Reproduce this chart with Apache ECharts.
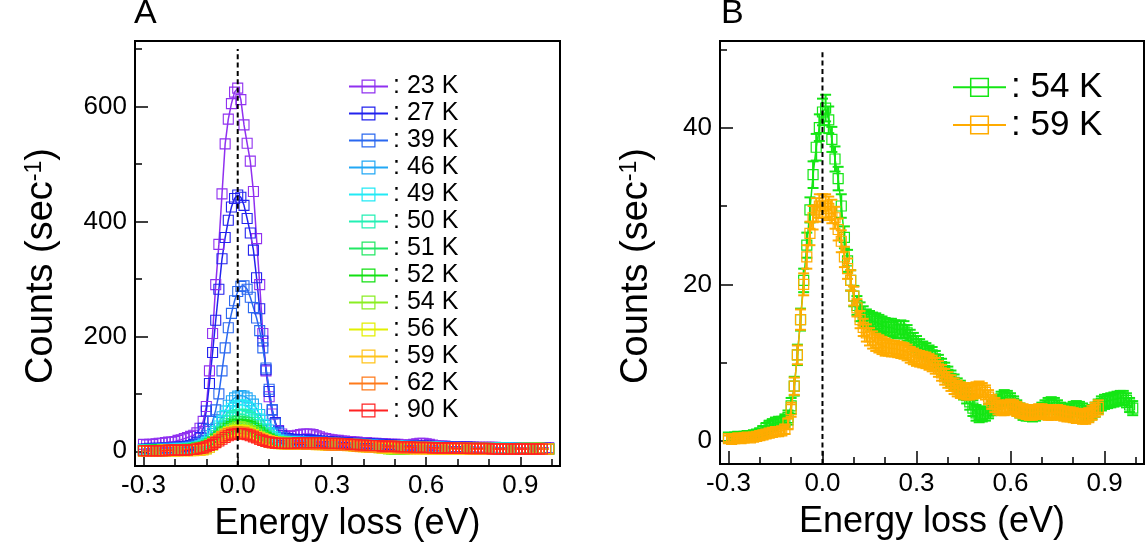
<!DOCTYPE html>
<html><head><meta charset="utf-8">
<script src="https://cdn.jsdelivr.net/npm/echarts@6/dist/echarts.min.js"></script>
<style>html,body{margin:0;padding:0;background:#fff}#c{width:1146px;height:552px}</style>
</head><body><div id="c"></div>
<script>
const FONT = '"Liberation Sans", Arial, Helvetica, sans-serif';

// energy loss grid (eV)
const energy = [
 -0.30,-0.29,-0.28,-0.27,-0.26,-0.25,-0.24,-0.23,-0.22,-0.21,
 -0.20,-0.19,-0.18,-0.17,-0.16,-0.15,-0.14,-0.13,-0.12,-0.11,
 -0.10,-0.09,-0.08,-0.07,-0.06,-0.05,-0.04,-0.03,-0.02,-0.01,
 0.00,0.01,0.02,0.03,0.04,0.05,0.06,0.07,0.08,0.09,
 0.10,0.11,0.12,0.13,0.14,0.15,0.16,0.17,0.18,0.19,
 0.20,0.21,0.22,0.23,0.24,0.25,0.26,0.27,0.28,0.29,
 0.30,0.31,0.32,0.33,0.34,0.35,0.36,0.37,0.38,0.39,
 0.40,0.41,0.42,0.43,0.44,0.45,0.46,0.47,0.48,0.49,
 0.50,0.51,0.52,0.53,0.54,0.55,0.56,0.57,0.58,0.59,
 0.60,0.61,0.62,0.63,0.64,0.65,0.66,0.67,0.68,0.69,
 0.70,0.71,0.72,0.73,0.74,0.75,0.76,0.77,0.78,0.79,
 0.80,0.81,0.82,0.83,0.84,0.85,0.86,0.87,0.88,0.89,
 0.90,0.91,0.92,0.93,0.94,0.95,0.96,0.97,0.98,0.99
];

const tempsA = ['23 K','27 K','39 K','46 K','49 K','50 K','51 K','52 K','54 K','56 K','59 K','62 K','90 K'];
const colorsA = ['#9030f0','#2222ee','#2a68f0','#22a8f5','#22eaf5','#22f0b4','#22e864','#12e012','#8aee22','#e2f000','#ffc41a','#ff7a1a','#ff2222'];

const c23 = [
 12,11,12,12,13,14,14,15,16,16,17,19,20,22,24,
 26,28,32,40,52,78,140,205,290,360,448,535,578,605,625,
 632,
 612,568,536,505,452,370,290,205,140,95,65,48,36,30,27,
 26,26,27,28,29,30,30,30,29,27,25,23,22,21,20,
 19,19,18,18,17,17,16,16,15,15,
 15,14,14,14,13,13,13,12,12,12,
 12,11,11,11,11,12,13,14,14,13,
 12,11,10,9,9,9,8,8,8,8,
 8,8,8,7,7,7,7,7,7,7,
 7,7,6,6,6,6,6,6,6,6,
 6,6,6,6,6,6,6,6,6
];
const c27 = [
 4,4,5,4,5,5,5,6,6,6,7,7,8,8,9,
 10,12,16,24,40,70,118,172,228,282,335,372,402,425,440,
 446,
 442,428,405,380,350,302,248,192,142,104,72,50,35,27,23,
 22,21,21,20,20,20,20,19,19,19,18,18,17,17,16,
 16,16,15,15,15,14,14,14,13,13,
 13,13,12,12,12,12,11,11,11,11,
 10,10,10,10,10,9,9,9,9,9,
 9,8,8,8,8,8,8,7,7,7,
 7,7,7,7,7,6,6,6,6,6,
 6,6,6,6,6,6,5,5,5,5,
 5,5,5,5,5,5,5,5,5
];
const c39 = [
 3,3,4,3,4,4,4,5,5,5,5,6,6,6,7,
 8,9,11,14,19,27,38,52,72,100,140,180,215,240,262,
 278,
 287,288,282,268,250,232,210,180,145,108,72,48,32,24,20,
 19,18,18,18,17,17,17,17,16,16,16,16,15,15,15,
 14,14,14,13,13,13,13,12,12,12,
 12,11,11,11,11,10,10,10,10,10,
 9,9,9,9,9,9,8,8,8,8,
 8,8,7,7,7,7,7,7,7,6,
 6,6,6,6,6,6,6,6,5,5,
 5,5,5,5,5,5,5,5,5,5,
 5,5,5,5,5,4,4,4,4
];
const c46 = [
 3,2,3,3,3,3,4,3,4,4,4,4,5,5,5,
 6,7,8,10,13,17,23,31,40,50,60,70,80,88,93,
 96,
 97,96,93,88,82,74,64,54,45,37,30,25,21,19,18,
 17,17,16,16,16,16,15,15,15,15,15,14,14,14,14,
 14,13,13,13,13,12,12,12,12,11,
 11,11,11,10,10,10,10,10,9,9,
 9,9,9,8,8,8,8,8,8,7,
 7,7,7,7,7,7,6,6,6,6,
 6,6,6,6,6,6,5,5,5,5,
 5,5,5,5,5,5,5,5,5,5,
 5,5,5,5,4,4,4,4,4
];
const c49 = [
 2,2,2,3,2,3,3,3,3,3,4,4,4,4,5,
 5,6,7,9,11,15,20,27,35,44,53,62,70,75,78,
 80,
 81,80,78,75,70,64,56,47,39,32,26,22,19,17,16,
 16,16,16,15,15,15,15,15,14,14,14,14,14,13,13,
 13,13,13,12,12,12,12,11,11,11,
 11,10,10,10,10,10,9,9,9,9,
 9,8,8,8,8,8,8,7,7,7,
 7,7,7,7,6,6,6,6,6,6,
 6,6,6,6,5,5,5,5,5,5,
 5,5,5,5,5,5,5,5,4,4,
 4,4,4,4,4,4,4,4,4
];
const c50 = [
 2,2,2,2,2,2,3,3,3,3,3,3,4,4,4,
 4,5,6,7,9,12,16,21,27,34,41,48,54,59,62,
 64,
 65,64,62,59,55,50,44,38,32,27,23,20,18,17,16,
 16,15,15,15,15,15,14,14,14,14,14,13,13,13,13,
 13,12,12,12,12,12,11,11,11,11,
 10,10,10,10,10,9,9,9,9,9,
 8,8,8,8,8,8,7,7,7,7,
 7,7,7,6,6,6,6,6,6,6,
 6,6,5,5,5,5,5,5,5,5,
 5,5,5,5,5,4,4,4,4,4,
 4,4,4,4,4,4,4,4,4
];
const c51 = [
 1,1,2,2,2,2,2,2,3,3,3,3,3,3,4,
 4,5,6,7,8,10,13,17,22,27,33,39,44,48,51,
 52,
 52,51,50,47,44,40,35,30,26,22,19,17,16,15,14,
 14,14,14,14,13,13,13,13,13,13,12,12,12,12,12,
 12,11,11,11,11,11,10,10,10,10,
 10,9,9,9,9,9,8,8,8,8,
 8,8,7,7,7,7,7,7,6,6,
 6,6,6,6,6,6,5,5,5,5,
 5,5,5,5,5,5,5,4,4,4,
 4,4,4,4,4,4,4,4,4,4,
 4,4,4,4,4,4,4,4,4
];
const c52 = [
 1,1,1,1,2,2,2,2,2,2,2,3,3,3,3,
 3,4,5,6,7,9,12,15,20,25,30,35,40,43,46,
 47,
 47,46,45,43,40,36,32,28,24,21,18,16,15,14,14,
 13,13,13,13,13,13,13,12,12,12,12,12,12,11,11,
 11,11,11,10,10,10,10,10,9,9,
 9,9,9,8,8,8,8,8,7,7,
 7,7,7,7,6,6,6,6,6,6,
 6,6,5,5,5,5,5,5,5,5,
 5,5,4,4,4,4,4,4,4,4,
 4,4,4,4,4,4,4,4,4,4,
 4,4,4,4,4,4,4,4,4
];
const c56 = [
 1,1,1,1,1,1,2,2,2,2,2,2,2,3,3,
 3,3,4,5,6,8,11,14,18,22,26,30,33,35,36,
 37,
 37,36,34,32,29,26,23,20,18,16,15,14,13,13,13,
 13,13,12,12,12,12,12,12,12,12,12,12,11,11,11,
 11,11,10,10,10,10,9,9,9,8,
 8,8,7,7,7,6,6,6,6,6,
 6,6,5,5,5,5,5,5,5,4,
 4,4,4,4,4,4,4,4,4,4,
 4,4,4,4,4,4,4,4,4,4,
 4,4,4,4,4,4,4,4,4,4,
 4,4,4,4,4,4,4,4,4
];
const c62 = [
 1,1,1,1,1,1,1,2,2,2,2,2,2,2,3,
 3,3,4,5,6,8,10,13,17,21,25,28,31,32,33,
 34,
 33,33,31,29,27,24,21,19,17,16,15,14,14,13,13,
 13,13,13,13,13,13,12,12,12,12,12,12,12,11,11,
 11,11,11,10,10,10,10,9,9,9,
 9,8,8,8,8,7,7,7,7,7,
 6,6,6,6,6,6,6,5,5,5,
 5,5,5,5,5,5,5,5,5,5,
 5,5,5,4,4,4,4,4,4,4,
 4,4,4,4,4,4,4,4,4,4,
 4,4,4,4,4,4,4,4,4
];
const c90 = [
 1,1,1,1,1,1,1,1,2,2,2,2,2,2,2,
 3,3,4,5,6,8,10,12,15,18,21,24,27,29,30,
 31,
 31,30,29,27,25,23,21,19,17,16,15,14,14,14,14,
 14,14,14,15,15,15,15,15,15,15,15,15,14,14,14,
 14,14,13,13,13,12,12,12,11,11,
 11,10,10,10,10,9,9,9,9,9,
 8,8,8,8,8,7,7,7,7,7,
 7,6,6,6,6,6,6,6,5,5,
 5,5,5,5,5,5,5,5,5,5,
 4,4,4,4,4,4,4,4,4,4,
 4,4,4,4,4,4,4
];

// panel B (also used for 54 K and 59 K in panel A)
const b54 = [
 0.5,0.4,0.5,0.6,0.5,0.6,0.7,0.6,0.8,0.9,
 1.0,1.3,1.6,1.9,2.1,2.3,2.4,2.4,2.6,3.0,
 4.5,7,11,15.5,20.5,25,29.5,34,37.5,40,42,
 42.5,41,38.5,36,33.5,30,26,23,20.5,18.5,
 17.3,16.5,16,15.7,15.5,15.3,15.2,15,14.8,14.6,
 14.5,14.5,14.3,14.2,14.3,14.2,13.8,13.2,12.8,12.4,
 12.0,11.7,11.5,11.2,11.0,10.5,10.0,9.5,9.0,8.5,
 8.0,7.5,7.0,6.7,6.3,5.8,5.0,4.2,3.6,3.4,
 3.4,3.5,3.8,4.2,4.6,5.0,5.4,5.6,5.5,5.2,
 4.8,4.3,3.9,3.6,3.5,3.5,3.4,3.5,3.7,4.0,
 4.3,4.6,4.7,4.6,4.3,4.0,3.8,3.7,3.9,4.1,
 4.2,4.1,3.9,3.6,3.5,3.7,4.0,4.4,4.8,5.0,
 5.1,5.2,5.3,5.4,5.5,5.5,5.2,4.6,4.2
];
const e54 = [
 0.5,0.5,0.5,0.5,0.5,0.5,0.5,0.5,0.5,0.5,
 0.6,0.6,0.7,0.7,0.7,0.7,0.7,0.7,0.8,0.9,
 1.0,1.2,1.3,1.4,1.5,1.6,1.6,1.7,1.7,1.7,1.7,
 1.7,1.7,1.6,1.6,1.5,1.5,1.4,1.4,1.3,1.3,
 1.2,1.2,1.2,1.1,1.1,1.1,1.1,1.1,1.1,1.1,
 1.1,1.1,1.1,1.1,1.1,1.1,1.0,1.0,1.0,1.0,
 1.0,1.0,1.0,1.0,1.0,1.0,1.0,1.0,1.0,1.0,
 1.0,1.0,1.0,1.0,1.0,1.0,1.0,1.0,1.0,1.0,
 0.9,0.9,0.9,0.9,0.9,0.9,0.9,0.9,0.9,0.9,
 0.9,0.9,0.9,0.9,0.9,0.9,0.9,0.9,0.9,0.9,
 0.9,0.9,0.9,0.9,0.9,0.9,0.9,0.9,0.9,0.9,
 0.9,0.9,0.9,0.9,0.9,0.9,0.9,0.9,0.9,0.9,
 0.9,0.9,0.9,0.9,0.9,0.9,0.9,0.9,0.9
];
const b59 = [
 0.3,0.2,0.3,0.4,0.3,0.4,0.5,0.4,0.5,0.6,
 0.7,0.8,0.9,1.0,1.1,1.2,1.2,1.3,1.5,2.2,
 4,7,11,15.5,20,23.5,26.5,28.5,29.5,30,30,
 30,29.7,29.3,28.5,27,25.5,23.5,22,20.5,18.5,
 17,15.5,14.5,13.8,13.3,12.9,12.6,12.4,12.2,12.0,
 11.9,11.8,11.8,11.7,11.6,11.5,11.3,11.0,10.8,10.6,
 10.5,10.4,10.3,10.1,9.9,9.6,9.2,8.7,8.2,7.8,
 7.4,7.0,6.7,6.5,6.4,6.3,6.3,6.4,6.5,6.6,
 6.5,6.2,5.6,5.0,4.6,4.3,4.2,4.2,4.3,4.4,
 4.3,4.1,3.9,3.8,3.7,3.6,3.6,3.7,3.8,3.8,
 3.7,3.6,3.6,3.7,3.7,3.6,3.5,3.4,3.4,3.3,
 3.2,3.2,3.1,3.1,3.3,3.6,4.0,4.3
];
const e59 = [
 0.4,0.4,0.4,0.4,0.4,0.4,0.4,0.4,0.4,0.4,
 0.5,0.5,0.5,0.5,0.5,0.5,0.5,0.5,0.6,0.7,
 0.9,1.1,1.2,1.3,1.4,1.5,1.5,1.5,1.5,1.5,1.5,
 1.5,1.5,1.5,1.4,1.4,1.4,1.3,1.3,1.3,1.2,
 1.1,1.1,1.1,1.1,1.1,1.1,1.1,1.1,1.1,1.1,
 1.0,1.0,1.0,1.0,1.0,1.0,1.0,1.0,1.0,1.0,
 1.0,1.0,1.0,1.0,1.0,1.0,1.0,1.0,1.0,1.0,
 1.0,1.0,1.0,1.0,1.0,1.0,1.0,1.0,1.0,1.0,
 0.9,0.9,0.9,0.9,0.9,0.9,0.9,0.9,0.9,0.9,
 0.9,0.9,0.9,0.9,0.9,0.9,0.9,0.9,0.9,0.9,
 0.9,0.9,0.9,0.9,0.9,0.9,0.9,0.9,0.9,0.9,
 0.9,0.9,0.9,0.9,0.9,0.9,0.9,0.9
];

const countsA = [c23,c27,c39,c46,c49,c50,c51,c52,b54,c56,b59,c62,c90];
const tempsB = ['54 K','59 K'];
const colorsB = ['#14e614','#ffab00'];
const countsB = [b54,b59];
const errorsB = [e54,e59];

const xRange = [-0.327, 1.026];
const yRangeA = [-25.6, 714];
const yRangeB = [-2.93, 51.06];
const xMajor = [-0.3, 0, 0.3, 0.6, 0.9];
const xMinor = [-0.2, -0.1, 0.1, 0.2, 0.4, 0.5, 0.7, 0.8, 1.0];
const yMajorA = [0, 200, 400, 600], yMinorA = [100, 300, 500, 700];
const yMajorB = [0, 20, 40], yMinorB = [10, 30, 50];
const zeroTopA = 700, zeroTopB = 50;

function pairs(ys) { return ys.map((y, i) => [energy[i], y]); }

function xAxes(grid, majLen, minLen) {
  const base = {type:'value', gridIndex:grid, min:xRange[0], max:xRange[1], position:'bottom', splitLine:{show:false}};
  return [
    Object.assign({}, base, {
      name:'Energy loss (eV)', nameLocation:'middle', nameGap:40,
      nameTextStyle:{fontSize:36, fontFamily:FONT, color:'#000'},
      axisLine:{show:true, onZero:false, lineStyle:{color:'#000', width:2}},
      axisTick:{show:true, inside:true, length:majLen, customValues:xMajor, lineStyle:{color:'#000', width:1.5}},
      axisLabel:{show:true, customValues:xMajor, formatter:v => v.toFixed(1), fontSize:26, fontFamily:FONT, color:'#000', margin:7}
    }),
    Object.assign({}, base, {
      axisLine:{show:false, onZero:false},
      axisTick:{show:true, inside:true, length:minLen, customValues:xMinor, lineStyle:{color:'#000', width:1.5}},
      axisLabel:{show:false}
    })
  ];
}
function yAxes(grid, range, major, minor, majLen, minLen) {
  const base = {type:'value', gridIndex:grid, min:range[0], max:range[1], position:'left', splitLine:{show:false}};
  return [
    Object.assign({}, base, {
      axisLine:{show:true, onZero:false, lineStyle:{color:'#000', width:2}},
      axisTick:{show:true, inside:true, length:majLen, customValues:major, lineStyle:{color:'#000', width:1.5}},
      axisLabel:{show:true, customValues:major, formatter:v => String(v), fontSize:26, fontFamily:FONT, color:'#000', margin:8}
    }),
    Object.assign({}, base, {
      axisLine:{show:false, onZero:false},
      axisTick:{show:true, inside:true, length:minLen, customValues:minor, lineStyle:{color:'#000', width:1.5}},
      axisLabel:{show:false}
    })
  ];
}
function yTitle(cx, cy) {
  return {type:'text', x:cx, y:cy, rotation:Math.PI / 2, silent:true,
    style:{text:'Counts (sec{sup|-1})', fontSize:38, fontFamily:FONT, fill:'#000', align:'center', verticalAlign:'middle',
      rich:{sup:{fontSize:23, fontFamily:FONT, fill:'#000', verticalAlign:'top'}}}};
}

const series = [];
countsA.forEach((ys, k) => {
  series.push({
    name:'A ' + tempsA[k], type:'line', xAxisIndex:0, yAxisIndex:0,
    data:pairs(ys), symbol:'rect', symbolSize:10, showSymbol:true, showAllSymbol:true,
    lineStyle:{color:colorsA[k], width:1.5},
    itemStyle:{color:'rgba(0,0,0,0)', borderColor:colorsA[k], borderWidth:1.1},
    emphasis:{disabled:true}, silent:true, animation:false, z:2
  });
});
series.push({
  type:'line', xAxisIndex:0, yAxisIndex:0, data:[[0, yRangeA[0]], [0, zeroTopA]],
  symbol:'none', lineStyle:{color:'#000', width:2, type:[5, 3.3]}, silent:true, z:10, animation:false
});

countsB.forEach((ys, k) => {
  const c = colorsB[k], es = errorsB[k];
  series.push({
    type:'custom', xAxisIndex:2, yAxisIndex:2, silent:true, z:2 + k * 2, animation:false,
    data:ys.map((y, i) => [energy[i], y - es[i], y + es[i]]),
    encode:{x:0, y:[1, 2]},
    renderItem:(params, api) => {
      const x = api.value(0);
      const p1 = api.coord([x, api.value(1)]);
      const p2 = api.coord([x, api.value(2)]);
      const w = 5.5, st = {stroke:c, lineWidth:2};
      return {type:'group', children:[
        {type:'line', shape:{x1:p1[0], y1:p1[1], x2:p2[0], y2:p2[1]}, style:st},
        {type:'line', shape:{x1:p1[0]-w, y1:p1[1], x2:p1[0]+w, y2:p1[1]}, style:st},
        {type:'line', shape:{x1:p2[0]-w, y1:p2[1], x2:p2[0]+w, y2:p2[1]}, style:st}
      ]};
    }
  });
  series.push({
    name:'B ' + tempsB[k], type:'line', xAxisIndex:2, yAxisIndex:2,
    data:pairs(ys), symbol:'rect', symbolSize:10, showSymbol:true, showAllSymbol:true,
    lineStyle:{color:c, width:1.5},
    itemStyle:{color:'rgba(0,0,0,0)', borderColor:c, borderWidth:1.2},
    emphasis:{disabled:true}, silent:true, animation:false, z:3 + k * 2
  });
});
series.push({
  type:'line', xAxisIndex:2, yAxisIndex:2, data:[[0, yRangeB[0]], [0, zeroTopB]],
  symbol:'none', lineStyle:{color:'#000', width:2, type:[5, 3.3]}, silent:true, z:10, animation:false
});

const option = {
  animation:false,
  backgroundColor:'#fff',
  grid:[
    {left:135, top:41, width:425, height:425, show:true, borderColor:'#000', borderWidth:2, backgroundColor:'transparent'},
    {left:720, top:41, width:424, height:423, show:true, borderColor:'#000', borderWidth:2, backgroundColor:'transparent'}
  ],
  xAxis:[].concat(xAxes(0, 9, 7), xAxes(1, 13, 7)),
  yAxis:[].concat(yAxes(0, yRangeA, yMajorA, yMinorA, 13, 7), yAxes(1, yRangeB, yMajorB, yMinorB, 13, 7)),
  legend:[
    {data:tempsA.map(t => 'A ' + t), orient:'vertical', left:348, top:73, padding:0, itemGap:0,
     itemWidth:39, itemHeight:16, selectedMode:false, formatter:n => ': ' + n.slice(2),
     textStyle:{fontSize:25, fontFamily:FONT, color:'#000', lineHeight:27},
     itemStyle:{borderWidth:1.2}, lineStyle:{width:2}},
    {data:tempsB.map(t => 'B ' + t), orient:'vertical', left:952, top:68.5, padding:0, itemGap:0,
     itemWidth:53, itemHeight:22, selectedMode:false, formatter:n => ': ' + n.slice(2),
     textStyle:{fontSize:35, fontFamily:FONT, color:'#000', lineHeight:37.7},
     itemStyle:{borderWidth:1.5}, lineStyle:{width:2}}
  ],
  graphic:[
    {type:'text', left:134, top:-3, style:{text:'A', font:'34px ' + FONT, fill:'#000'}},
    {type:'text', left:721, top:-3, style:{text:'B', font:'34px ' + FONT, fill:'#000'}},
    yTitle(42, 266),
    yTitle(637, 266)
  ],
  series:series
};
echarts.init(document.getElementById('c'), null, {renderer:'canvas'}).setOption(option);
</script>
</body></html>
